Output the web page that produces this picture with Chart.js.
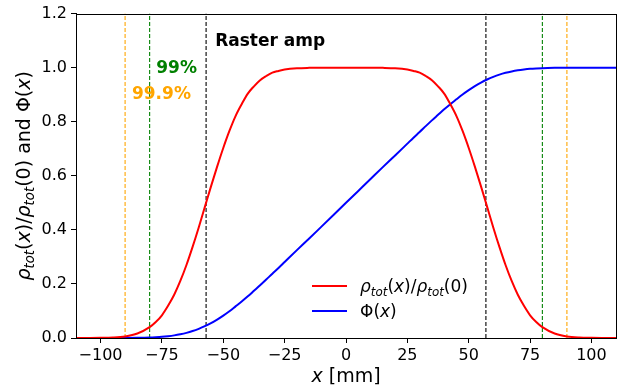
<!DOCTYPE html>
<html>
<head>
<meta charset="utf-8">
<script src="https://cdn.jsdelivr.net/npm/chart.js@4.4.0/dist/chart.umd.min.js"></script>
<style>
  html, body { margin: 0; padding: 0; background: #fff; }
  #wrap { width: 621px; height: 392px; }
</style>
</head>
<body>
<div id="wrap"><canvas id="rasterChart" width="621" height="392"></canvas></div>
<script>
// x positions [mm] (finer where the red curve bends)
var xPos = [-110, -105, -100, -95, -90, -85, -80, -77.5, -75, -72.5, -70, -67.5, -65, -62.5, -60, -57.5, -55, -52.5, -50,
    -47.5, -45, -42.5, -40, -37.5, -35, -32.5, -30, -27.5, -25, -20, -15, -10, -5,
    0, 5, 10, 15, 20, 25, 27.5, 30, 32.5, 35, 37.5, 40, 42.5, 45, 47.5,
    50, 52.5, 55, 57.5, 60, 62.5, 65, 67.5, 70, 72.5, 75, 77.5, 80, 85, 90, 95, 100, 105, 110];
// rho_tot(x)/rho_tot(0)
var rhoRatio = [0.0000, 0.0001, 0.0005, 0.0018, 0.0059, 0.0166, 0.040, 0.059, 0.084, 0.119, 0.160, 0.211, 0.270, 0.337, 0.409, 0.485, 0.561, 0.634, 0.703,
    0.766, 0.821, 0.865, 0.904, 0.931, 0.9537, 0.9692, 0.9817, 0.9878, 0.9929, 0.9977, 0.9993, 0.9998, 1.000,
    1.000, 1.000, 0.9998, 0.9993, 0.9977, 0.9929, 0.9878, 0.9817, 0.9692, 0.9537, 0.931, 0.904, 0.865, 0.821, 0.766,
    0.703, 0.634, 0.561, 0.485, 0.409, 0.337, 0.270, 0.211, 0.160, 0.119, 0.084, 0.059, 0.040, 0.0166, 0.0059, 0.0018, 0.0005, 0.0001, 0.0000];
// Phi(x)
var phiCum = [0.0000, 0.0000, 0.0000, 0.0001, 0.0002, 0.0007, 0.0018, 0.0029, 0.0044, 0.0067, 0.0097, 0.0138, 0.019, 0.0257, 0.034, 0.0437, 0.055, 0.0683, 0.083,
    0.0991, 0.117, 0.135, 0.154, 0.1745, 0.195, 0.2163, 0.238, 0.259, 0.281, 0.325, 0.368, 0.412, 0.456,
    0.500, 0.544, 0.588, 0.632, 0.675, 0.719, 0.741, 0.762, 0.7837, 0.805, 0.8255, 0.846, 0.865, 0.883, 0.9009,
    0.917, 0.9317, 0.945, 0.9563, 0.966, 0.9743, 0.981, 0.9862, 0.9903, 0.9933, 0.9956, 0.9971, 0.9982, 0.9993, 0.9998, 0.9999, 1.0000, 1.0000, 1.0000];

// vertical markers
var rasterAmp = 57;
var cut99 = 80;
var cut999 = 90;

var xTicks = [-100, -75, -50, -25, 0, 25, 50, 75, 100];
var yTicks = [0.0, 0.2, 0.4, 0.6, 0.8, 1.0, 1.2];

var FONT = "'DejaVu Sans', sans-serif";

function pairs(xs, ys) {
    return xs.map(function (x, i) { return { x: x, y: ys[i] }; });
}
function markerSet(x, color) {
    return {
        data: [{ x: x, y: 0 }, { x: x, y: 1.2 }], borderColor: color, backgroundColor: color,
        borderWidth: 1.1, borderDash: [4, 2], pointRadius: 0, fill: false, tension: 0
    };
}

// text made of pieces, some italic, some subscript
function richWidth(ctx, parts, size) {
    var w = 0;
    parts.forEach(function (p) {
        var s = p.sub ? size * 0.7 : size;
        ctx.font = (p.it ? 'italic ' : '') + s + 'px ' + FONT;
        w += ctx.measureText(p.t).width;
    });
    return w;
}
function drawRich(ctx, parts, x, y, size) {
    parts.forEach(function (p) {
        var s = p.sub ? size * 0.7 : size;
        ctx.font = (p.it ? 'italic ' : '') + s + 'px ' + FONT;
        ctx.fillText(p.t, x, p.sub ? y + size * 0.22 : y);
        x += ctx.measureText(p.t).width;
    });
}

var rhoLabel = [{ t: 'ρ', it: true }, { t: 'tot', it: true, sub: true }, { t: '(' }, { t: 'x', it: true }, { t: ')/' },
    { t: 'ρ', it: true }, { t: 'tot', it: true, sub: true }, { t: '(0)' }];
var phiLabel = [{ t: 'Φ(' }, { t: 'x', it: true }, { t: ')' }];

var extras = {
    id: 'extras',
    afterDraw: function (chart) {
        var ctx = chart.ctx, a = chart.chartArea;
        var sx = chart.scales.x, sy = chart.scales.y;
        ctx.save();
        // frame
        ctx.strokeStyle = '#000';
        ctx.lineWidth = 1;
        ctx.strokeRect(Math.round(a.left) + 0.5, Math.round(a.top) + 0.5, Math.round(a.right - a.left), Math.round(a.bottom - a.top));

        // annotations
        ctx.textBaseline = 'middle';
        ctx.textAlign = 'left';
        ctx.font = 'bold 17px ' + FONT;
        ctx.fillStyle = '#000';
        ctx.fillText('Raster amp', sx.getPixelForValue(-53.3), sy.getPixelForValue(1.098));
        ctx.fillStyle = 'green';
        ctx.fillText('99%', sx.getPixelForValue(-77.3), sy.getPixelForValue(0.998));
        ctx.fillStyle = 'orange';
        ctx.fillText('99.9%', sx.getPixelForValue(-87.2), sy.getPixelForValue(0.899));

        // legend
        ctx.lineWidth = 2;
        ctx.strokeStyle = 'red';
        ctx.beginPath(); ctx.moveTo(312, 286); ctx.lineTo(347, 286); ctx.stroke();
        ctx.strokeStyle = 'blue';
        ctx.beginPath(); ctx.moveTo(312, 311); ctx.lineTo(347, 311); ctx.stroke();
        ctx.fillStyle = '#000';
        ctx.textBaseline = 'alphabetic';
        drawRich(ctx, rhoLabel, 360, 292, 17);
        drawRich(ctx, phiLabel, 360, 317, 17);

        // x title
        var xt = [{ t: 'x', it: true }, { t: ' [mm]' }];
        var w = richWidth(ctx, xt, 19);
        drawRich(ctx, xt, (a.left + a.right) / 2 - w / 2, 382, 19);

        // y title
        var yt = rhoLabel.concat([{ t: ' and ' }], phiLabel);
        w = richWidth(ctx, yt, 19);
        ctx.translate(30, (a.top + a.bottom) / 2);
        ctx.rotate(-Math.PI / 2);
        drawRich(ctx, yt, -w / 2, 0, 19);
        ctx.restore();
    }
};

document.addEventListener("DOMContentLoaded", function () {
    var myContext = document.getElementById("rasterChart").getContext('2d');

    var axisGrid = { display: true, drawOnChartArea: false, drawTicks: true, tickLength: 5, color: '#000' };

    new Chart(myContext, {
        type: 'line',
        data: {
            datasets: [
                {
                    label: 'rho',
                    data: pairs(xPos, rhoRatio),
                    borderColor: 'red', backgroundColor: 'red', borderWidth: 2, pointRadius: 0,
                    cubicInterpolationMode: 'monotone', fill: false
                },
                {
                    label: 'phi',
                    data: pairs(xPos, phiCum),
                    borderColor: 'blue', backgroundColor: 'blue', borderWidth: 2, pointRadius: 0,
                    cubicInterpolationMode: 'monotone', fill: false
                },
                markerSet(-cut999, 'orange'), markerSet(cut999, 'orange'),
                markerSet(-cut99, 'green'), markerSet(cut99, 'green'),
                markerSet(-rasterAmp, 'black'), markerSet(rasterAmp, 'black')
            ]
        },
        options: {
            responsive: false,
            animation: false,
            layout: { padding: { top: 12, right: 5, left: 0, bottom: 0 } },
            plugins: { legend: { display: false }, tooltip: { enabled: false } },
            scales: {
                x: {
                    type: 'linear', min: -110, max: 110,
                    afterBuildTicks: function (s) { s.ticks = xTicks.map(function (v) { return { value: v }; }); },
                    afterFit: function (s) { s.height = 54; },
                    grid: axisGrid,
                    border: { display: true, color: '#000' },
                    ticks: {
                        color: '#000', padding: 3, maxRotation: 0, autoSkip: false,
                        font: { family: FONT, size: 16 },
                        callback: function (v) { return String(v).replace('-', '\u2212'); }
                    }
                },
                y: {
                    type: 'linear', min: 0, max: 1.2,
                    afterBuildTicks: function (s) { s.ticks = yTicks.map(function (v) { return { value: v }; }); },
                    afterFit: function (s) { s.width = 76; },
                    grid: axisGrid,
                    border: { display: true, color: '#000' },
                    ticks: {
                        color: '#000', padding: 4, autoSkip: false,
                        font: { family: FONT, size: 16 },
                        callback: function (v) { return Number(v).toFixed(1); }
                    }
                }
            }
        },
        plugins: [extras]
    });
});
</script>
</body>
</html>
